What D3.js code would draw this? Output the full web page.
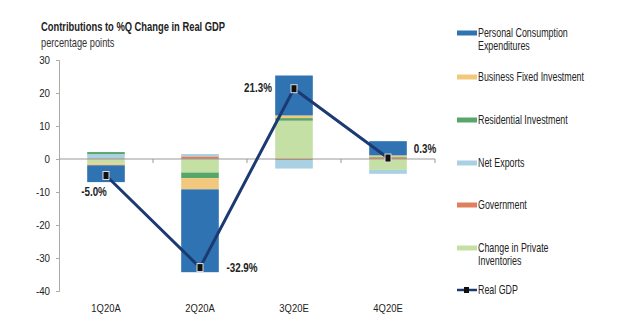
<!DOCTYPE html>
<html lang="en">
<head>
  <meta charset="UTF-8" />
  <title>Contributions to %Q Change in Real GDP</title>
  <script src="https://d3js.org/d3.v7.min.js"></script>
  <style>
    body { margin: 0; background: #fff; }
    text { font-family: "Liberation Sans", Arial, sans-serif; fill: #222; }
  </style>
</head>
<body>
  <div id="chart"></div>
  <script>
    // data
    var quarters = ["1Q20A", "2Q20A", "3Q20E", "4Q20E"]
    var pce = [-5.1, -25.1, 12.1, 4.3]
    var bfi = [-0.6, -3.4, 0.8, 0.5]
    var residential = [0.6, -1.7, 0.8, 0.2]
    var netExports = [1.3, 0.7, -2.6, -1.2]
    var government = [0.2, 0.8, -0.3, 0.4]
    var inventories = [-1.3, -4.1, 11.6, -3.3]
    var realGdp = [-5.0, -32.9, 21.3, 0.3]
    var gdpLabels = ["-5.0%", "-32.9%", "21.3%", "0.3%"]
    var yTicks = [30, 20, 10, 0, -10, -20, -30, -40]

    // stacking order (first = nearest zero)
    var series = [
      { name: "Change in Private Inventories", vals: inventories, color: "#c5e0a5" },
      { name: "Government", vals: government, color: "#e07f5e" },
      { name: "Net Exports", vals: netExports, color: "#a9d1e3" },
      { name: "Residential Investment", vals: residential, color: "#58a66a" },
      { name: "Business Fixed Investment", vals: bfi, color: "#f2c97c" },
      { name: "Personal Consumption Expenditures", vals: pce, color: "#2f73b3" }
    ]

    var legendItems = [
      { lines: ["Personal Consumption", "Expenditures"], color: "#2f73b3" },
      { lines: ["Business Fixed Investment"], color: "#f2c97c" },
      { lines: ["Residential Investment"], color: "#58a66a" },
      { lines: ["Net Exports"], color: "#a9d1e3" },
      { lines: ["Government"], color: "#e07f5e" },
      { lines: ["Change in Private", "Inventories"], color: "#c5e0a5" },
      { lines: ["Real GDP"], color: "#1c3a72", line: true }
    ]

    var width = 638, height = 329

    // squeeze text horizontally (the original uses a narrow face)
    function squeeze(sel, sx) {
      sel.each(function () {
        var t = d3.select(this)
        var tx = +t.attr("x") || 0, ty = +t.attr("y") || 0
        t.attr("x", 0).attr("y", 0)
          .attr("transform", "translate(" + tx + "," + ty + ") scale(" + sx + ",1)")
      })
    }

    var svg = d3.select("#chart").append("svg")
      .attr("width", width)
      .attr("height", height)

    var x = d3.scaleBand().domain(quarters).range([59, 435]).paddingInner(0.6).paddingOuter(0.3)
    var xc = d3.scalePoint().domain(quarters).range([59, 435]).padding(0.5)
    var y = d3.scaleLinear().domain([-40, 30]).range([291, 60])

    // titles
    squeeze(svg.append("text").attr("x", 41).attr("y", 31)
      .style("font-size", "12.5px").style("font-weight", "bold")
      .text("Contributions to %Q Change in Real GDP"), 0.75)
    squeeze(svg.append("text").attr("x", 41).attr("y", 47)
      .style("font-size", "12.5px").style("fill", "#333")
      .text("percentage points"), 0.74)

    // y axis
    var yAxis = svg.append("g").attr("transform", "translate(59,0)")
      .call(d3.axisLeft(y).tickValues(yTicks).tickSize(3).tickFormat(function (d) { return String(d) }))
    yAxis.select(".domain").attr("stroke", "#aaa")
    yAxis.selectAll(".tick line").attr("stroke", "#aaa")
    yAxis.selectAll(".tick text").attr("x", -9)
      .style("font-size", "11.5px").style("font-family", "\"Liberation Sans\", Arial, sans-serif")
    squeeze(yAxis.selectAll(".tick text"), 0.85)

    // stacked bars
    var stacked = []
    quarters.forEach(function (q, i) {
      var pos = 0, neg = 0
      series.forEach(function (s) {
        var v = s.vals[i]
        var y0, y1
        if (v >= 0) { y0 = pos; y1 = pos + v; pos = y1 } else { y0 = neg; y1 = neg + v; neg = y1 }
        stacked.push({ q: q, y0: y0, y1: y1, color: s.color })
      })
    })

    svg.append("g").selectAll("rect")
      .data(stacked)
      .enter().append("rect")
      .attr("x", function (d) { return x(d.q) })
      .attr("width", x.bandwidth())
      .attr("y", function (d) { return y(Math.max(d.y0, d.y1)) })
      .attr("height", function (d) { return Math.abs(y(d.y0) - y(d.y1)) })
      .attr("fill", function (d) { return d.color })

    // zero line with category ticks
    var xAxis = svg.append("g").attr("transform", "translate(0," + y(0) + ")")
    xAxis.append("line").attr("x1", 59).attr("x2", 435).attr("stroke", "#999").attr("stroke-width", 1.2)
    xAxis.selectAll(".cat")
      .data(quarters)
      .enter().append("line")
      .attr("x1", function (d) { return xc(d) + xc.step() / 2 })
      .attr("x2", function (d) { return xc(d) + xc.step() / 2 })
      .attr("y1", 0).attr("y2", 4)
      .attr("stroke", "#999")

    // category labels
    squeeze(svg.append("g").selectAll("text")
      .data(quarters)
      .enter().append("text")
      .attr("x", function (d) { return xc(d) })
      .attr("y", 312)
      .attr("text-anchor", "middle")
      .style("font-size", "11.5px")
      .text(function (d) { return d }), 0.82)

    // real gdp line
    var line = d3.line()
      .x(function (d, i) { return xc(quarters[i]) })
      .y(function (d) { return y(d) })
    svg.append("path").datum(realGdp)
      .attr("d", line)
      .attr("fill", "none")
      .attr("stroke", "#1c3a72")
      .attr("stroke-width", 3)

    svg.append("g").selectAll("rect")
      .data(realGdp)
      .enter().append("rect")
      .attr("x", function (d, i) { return xc(quarters[i]) - 3 })
      .attr("y", function (d) { return y(d) - 4 })
      .attr("width", 6).attr("height", 8)
      .attr("fill", "#111")
      .attr("stroke", "#ddd").attr("stroke-width", 1)

    // data labels
    var labelOffsets = [[-12, 16], [42, 0], [-36, -1], [37, -9]]
    squeeze(svg.append("g").selectAll("text")
      .data(realGdp)
      .enter().append("text")
      .attr("x", function (d, i) { return xc(quarters[i]) + labelOffsets[i][0] })
      .attr("y", function (d, i) { return y(d) + labelOffsets[i][1] + 4 })
      .attr("text-anchor", "middle")
      .style("font-size", "12px").style("font-weight", "bold")
      .text(function (d, i) { return gdpLabels[i] }), 0.82)

    // legend
    var legendY = [33, 77, 120, 163, 205, 248, 290]
    var lg = svg.append("g").selectAll("g")
      .data(legendItems)
      .enter().append("g")
      .attr("transform", function (d, i) { return "translate(457," + legendY[i] + ")" })

    lg.each(function (d) {
      var g = d3.select(this)
      if (d.line) {
        g.append("line").attr("x1", 0).attr("x2", 20).attr("y1", 0).attr("y2", 0)
          .attr("stroke", d.color).attr("stroke-width", 2.5)
        g.append("rect").attr("x", 7).attr("y", -3).attr("width", 5).attr("height", 6).attr("fill", "#111")
      } else {
        g.append("rect").attr("x", 0).attr("y", -2.5).attr("width", 20).attr("height", 5).attr("fill", d.color)
      }
      var t = g.append("text")
        .attr("transform", "translate(21,4) scale(0.74,1)")
        .style("font-size", "12px")
      d.lines.forEach(function (l, j) {
        t.append("tspan").attr("x", 0).attr("dy", j === 0 ? 0 : 13).text(l)
      })
    })
  </script>
</body>
</html>
